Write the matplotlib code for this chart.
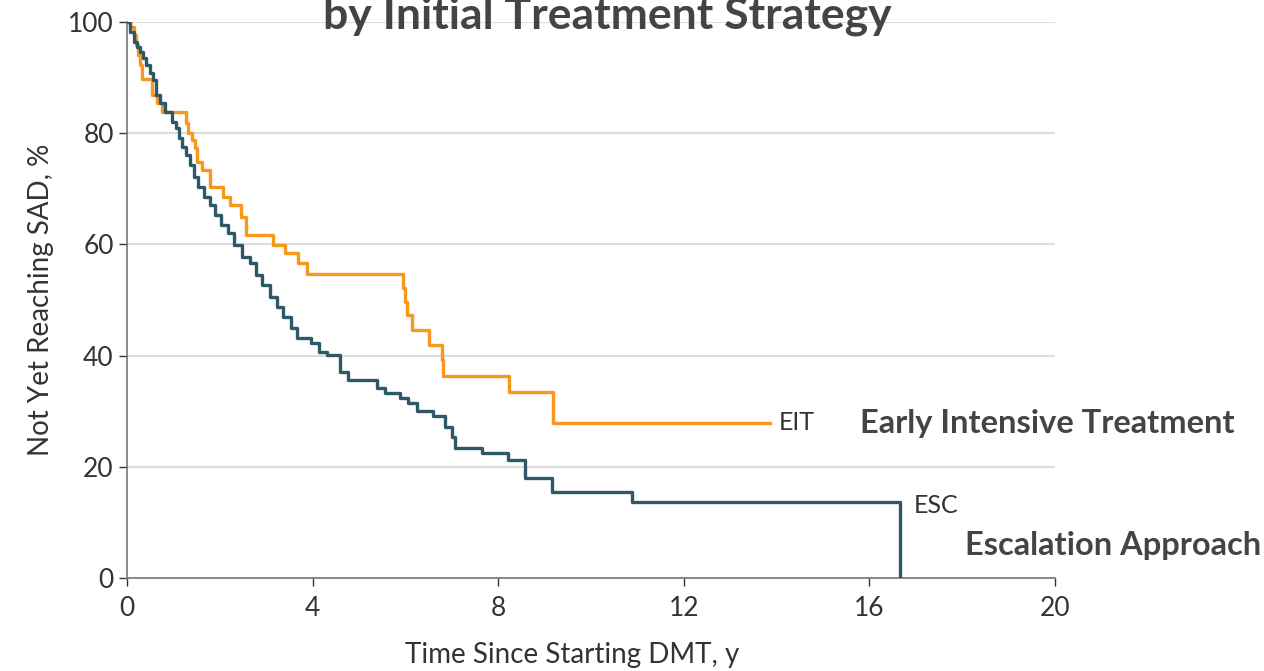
import matplotlib
matplotlib.use("Agg")
import matplotlib.pyplot as plt

# Kaplan-Meier style curves (years, % not yet reaching SAD)
esc_time = [0, 0.06, 0.15, 0.22, 0.28, 0.34, 0.41, 0.50, 0.56, 0.63, 0.71, 0.82, 0.97,
            1.06, 1.12, 1.19, 1.27, 1.36, 1.44, 1.53, 1.66, 1.79, 1.90, 2.03, 2.18, 2.31,
            2.48, 2.65, 2.78, 2.91, 3.08, 3.23, 3.36, 3.53, 3.66, 3.97, 4.14, 4.31, 4.59,
            4.76, 5.39, 5.56, 5.88, 6.06, 6.25, 6.59, 6.85, 7.00, 7.07, 7.65, 8.21, 8.58,
            9.16, 10.88, 16.66]
esc_surv = [100, 98.2, 96.4, 95.5, 94.6, 93.5, 92.3, 90.8, 89.6, 86.9, 85.4, 83.8, 82.0,
            80.9, 79.1, 77.5, 76.1, 74.3, 72.1, 70.3, 68.5, 67.1, 65.3, 63.5, 62.0, 59.9,
            57.7, 56.7, 54.5, 52.7, 50.5, 48.7, 46.9, 45.0, 43.2, 42.3, 40.6, 40.1, 37.0,
            35.6, 34.2, 33.3, 32.4, 31.5, 30.0, 29.1, 27.2, 25.4, 23.4, 22.5, 21.2, 18.0,
            15.5, 13.7, 0]

eit_time = [0, 0.06, 0.15, 0.19, 0.24, 0.28, 0.32, 0.54, 0.65, 0.75, 1.27, 1.31,
            1.40, 1.47, 1.51, 1.62, 1.79, 2.07, 2.22, 2.45, 2.56, 3.15, 3.41, 3.69, 3.88,
            5.95, 5.99, 6.03, 6.14, 6.51, 6.79, 6.81, 8.23, 9.18, 13.86]
eit_surv = [100, 99.1, 97.7, 95.9, 94.1, 92.3, 89.8, 86.9, 85.4, 83.8, 81.8, 80.0,
            78.8, 77.3, 74.8, 73.4, 70.3, 68.5, 67.1, 64.9, 61.7, 59.9, 58.5, 56.7, 54.7,
            52.2, 49.6, 47.3, 44.6, 41.9, 39.2, 36.3, 33.5, 27.9, 27.9]

x_ticks = [0, 4, 8, 12, 16, 20]
y_ticks = [0, 20, 40, 60, 80, 100]

orange = "#F7981D"
teal = "#2F5866"
plt.rcParams['font.family'] = ['Lato', 'DejaVu Sans']

fig = plt.figure(figsize=(12.64, 6.71), dpi=100)
ax = fig.add_axes([127 / 1264, 1 - 578 / 671, 928 / 1264, 556 / 671])

ax.step(eit_time, eit_surv, where="post", color=orange, lw=2.4, zorder=3)
ax.step(esc_time, esc_surv, where="post", color=teal, lw=2.4, zorder=4)

ax.set_xlim(0, 20)
ax.set_ylim(0, 100)
ax.set_xticks(x_ticks)
ax.set_yticks(y_ticks)
ax.tick_params(labelsize=19, colors="#333333", length=6, width=1)
ax.tick_params(axis="x", pad=7)
for s in ["top", "right"]:
    ax.spines[s].set_visible(False)
for s in ["left", "bottom"]:
    ax.spines[s].set_color("#777777")
    ax.spines[s].set_linewidth(1.2)
ax.yaxis.grid(True, color="#DDDDDD", lw=1.5)
ax.set_axisbelow(True)

ax.set_xlabel("Time Since Starting DMT, y", fontsize=20, color="#333333", labelpad=16)
ax.xaxis.set_label_coords(0.48, -0.115)
ax.set_ylabel("Not Yet Reaching SAD, %", fontsize=20, color="#333333", labelpad=10)

ax.text(14.05, 27.9, "EIT", fontsize=18, color="#333333", va="center", ha="left")
ax.text(16.95, 13.0, "ESC", fontsize=18, color="#333333", va="center", ha="left")

fig.text(860 / 1264, 1 - 424 / 671, "Early Intensive Treatment", fontsize=23.5,
         fontweight="bold", color="#444444", va="center", ha="left")
fig.text(965 / 1264, 1 - 546 / 671, "Escalation Approach", fontsize=23.5,
         fontweight="bold", color="#444444", va="center", ha="left")
# title is partly cut off at the top in the reference too
fig.text(607 / 1264, 1 - 29 / 671, "by Initial Treatment Strategy", fontsize=32,
         fontweight="bold", color="#444444", va="baseline", ha="center")

fig.savefig("out.png", dpi=100)
